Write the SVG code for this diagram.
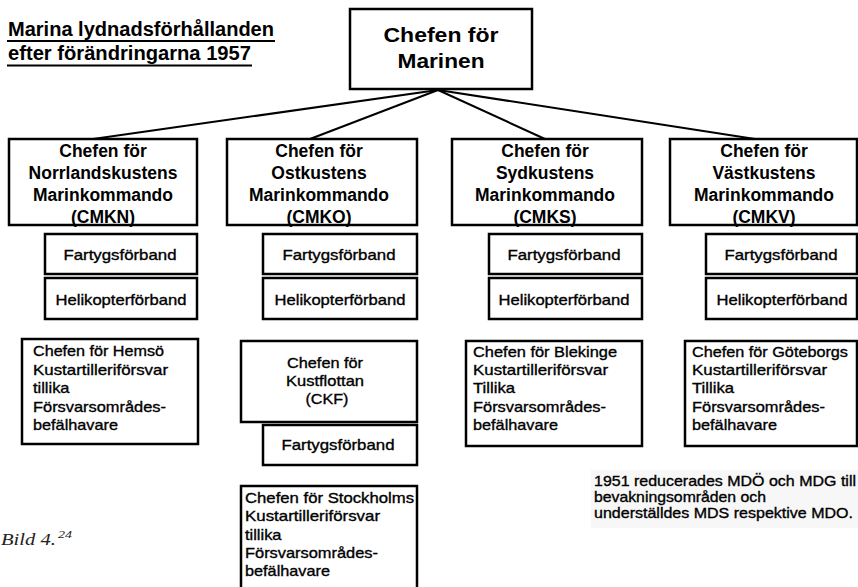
<svg xmlns="http://www.w3.org/2000/svg" width="858" height="587" viewBox="0 0 858 587">
<style>
.box{fill:#fff;stroke:#000;stroke-width:2.5}
.conn line{stroke:#000;stroke-width:2}
.title{font-family:"Liberation Sans",Arial,sans-serif;font-weight:bold;font-size:20px;fill:#000}
.top{font-family:"Liberation Sans",Arial,sans-serif;font-weight:bold;font-size:21px;fill:#000;text-anchor:middle}
.cmd{font-family:"Liberation Sans",Arial,sans-serif;font-weight:bold;font-size:17.5px;fill:#000;text-anchor:middle}
.unit{font-family:"Liberation Sans",Arial,sans-serif;font-size:15px;fill:#000;stroke:#000;stroke-width:0.35;text-anchor:middle}
.info{font-family:"Liberation Sans",Arial,sans-serif;font-size:15px;fill:#000;stroke:#000;stroke-width:0.35}
.infoc{font-family:"Liberation Sans",Arial,sans-serif;font-size:15px;fill:#000;stroke:#000;stroke-width:0.35;text-anchor:middle}
.note{font-family:"Liberation Sans",Arial,sans-serif;font-size:15px;fill:#000;stroke:#000;stroke-width:0.35}
.bild{font-family:"Liberation Serif","Times New Roman",serif;font-style:italic;fill:#222}
</style>
<rect width="858" height="587" fill="#fff"/>

<g id="title">
<text class="title" x="8" y="36" textLength="266" lengthAdjust="spacingAndGlyphs">Marina lydnadsförhållanden</text>
<text class="title" x="8" y="60" textLength="243" lengthAdjust="spacingAndGlyphs">efter förändringarna 1957</text>
<line x1="7" y1="41" x2="275" y2="41" stroke="#000" stroke-width="2"/>
<line x1="7" y1="65.5" x2="252" y2="65.5" stroke="#000" stroke-width="2"/>
</g>

<g class="conn" id="connectors">
<line x1="438" y1="90" x2="93" y2="139"/>
<line x1="438" y1="90" x2="310" y2="139"/>
<line x1="438" y1="90" x2="545" y2="139"/>
<line x1="438" y1="90" x2="755" y2="139"/>
</g>

<g id="chefen-marinen">
<rect class="box" x="350" y="9" width="182" height="80"/>
<text class="top" x="441" y="42" textLength="115" lengthAdjust="spacingAndGlyphs">Chefen för</text>
<text class="top" x="441" y="68" textLength="87" lengthAdjust="spacingAndGlyphs">Marinen</text>
</g>

<g id="cmkn">
<rect class="box" x="9" y="139" width="188" height="86"/>
<text class="cmd" x="103" y="157">Chefen för</text>
<text class="cmd" x="103" y="179">Norrlandskustens</text>
<text class="cmd" x="103" y="201">Marinkommando</text>
<text class="cmd" x="103" y="223">(CMKN)</text>
</g>
<g id="cmko">
<rect class="box" x="227" y="139" width="190" height="86"/>
<text class="cmd" x="319" y="157">Chefen för</text>
<text class="cmd" x="319" y="179">Ostkustens</text>
<text class="cmd" x="319" y="201">Marinkommando</text>
<text class="cmd" x="319" y="223">(CMKO)</text>
</g>
<g id="cmks">
<rect class="box" x="452" y="139" width="190" height="86"/>
<text class="cmd" x="545" y="157">Chefen för</text>
<text class="cmd" x="545" y="179">Sydkustens</text>
<text class="cmd" x="545" y="201">Marinkommando</text>
<text class="cmd" x="545" y="223">(CMKS)</text>
</g>
<g id="cmkv">
<rect class="box" x="670" y="139" width="187" height="86"/>
<text class="cmd" x="764" y="157">Chefen för</text>
<text class="cmd" x="764" y="179">Västkustens</text>
<text class="cmd" x="764" y="201">Marinkommando</text>
<text class="cmd" x="764" y="223">(CMKV)</text>
</g>

<g id="n-fartyg">
<rect class="box" x="45" y="234" width="152" height="40"/>
<text class="unit" x="120" y="260" textLength="113" lengthAdjust="spacingAndGlyphs">Fartygsförband</text>
</g>
<g id="n-heli">
<rect class="box" x="45" y="278" width="152" height="41"/>
<text class="unit" x="121" y="305" textLength="131" lengthAdjust="spacingAndGlyphs">Helikopterförband</text>
</g>
<g id="o-fartyg">
<rect class="box" x="263" y="234" width="154" height="40"/>
<text class="unit" x="339" y="260" textLength="113" lengthAdjust="spacingAndGlyphs">Fartygsförband</text>
</g>
<g id="o-heli">
<rect class="box" x="263" y="278" width="154" height="41"/>
<text class="unit" x="340" y="305" textLength="131" lengthAdjust="spacingAndGlyphs">Helikopterförband</text>
</g>
<g id="s-fartyg">
<rect class="box" x="489" y="234" width="153" height="40"/>
<text class="unit" x="564" y="260" textLength="113" lengthAdjust="spacingAndGlyphs">Fartygsförband</text>
</g>
<g id="s-heli">
<rect class="box" x="489" y="278" width="153" height="41"/>
<text class="unit" x="564" y="305" textLength="131" lengthAdjust="spacingAndGlyphs">Helikopterförband</text>
</g>
<g id="v-fartyg">
<rect class="box" x="706" y="234" width="151" height="40"/>
<text class="unit" x="781" y="260" textLength="113" lengthAdjust="spacingAndGlyphs">Fartygsförband</text>
</g>
<g id="v-heli">
<rect class="box" x="706" y="278" width="151" height="41"/>
<text class="unit" x="782" y="305" textLength="131" lengthAdjust="spacingAndGlyphs">Helikopterförband</text>
</g>

<g id="hemso">
<rect class="box" x="22" y="339" width="176" height="105"/>
<text class="info" x="33" y="356" textLength="131" lengthAdjust="spacingAndGlyphs">Chefen för Hemsö</text>
<text class="info" x="33" y="375" textLength="135" lengthAdjust="spacingAndGlyphs">Kustartilleriförsvar</text>
<text class="info" x="33" y="393" textLength="36.5" lengthAdjust="spacingAndGlyphs">tillika</text>
<text class="info" x="33" y="412" textLength="133" lengthAdjust="spacingAndGlyphs">Försvarsområdes-</text>
<text class="info" x="33" y="430" textLength="85" lengthAdjust="spacingAndGlyphs">befälhavare</text>
</g>

<g id="ckf">
<rect class="box" x="241" y="341" width="176" height="81"/>
<text class="infoc" x="325" y="368" textLength="76" lengthAdjust="spacingAndGlyphs">Chefen för</text>
<text class="infoc" x="325" y="386" textLength="78" lengthAdjust="spacingAndGlyphs">Kustflottan</text>
<text class="infoc" x="327" y="404" textLength="43" lengthAdjust="spacingAndGlyphs">(CKF)</text>
</g>
<g id="ckf-fartyg">
<rect class="box" x="263" y="425" width="154" height="40"/>
<text class="unit" x="338" y="450" textLength="113" lengthAdjust="spacingAndGlyphs">Fartygsförband</text>
</g>
<g id="stockholm">
<rect class="box" x="241" y="486" width="176" height="110"/>
<text class="info" x="245" y="503" textLength="169" lengthAdjust="spacingAndGlyphs">Chefen för Stockholms</text>
<text class="info" x="245" y="521" textLength="135" lengthAdjust="spacingAndGlyphs">Kustartilleriförsvar</text>
<text class="info" x="245" y="540" textLength="36.5" lengthAdjust="spacingAndGlyphs">tillika</text>
<text class="info" x="245" y="558" textLength="133" lengthAdjust="spacingAndGlyphs">Försvarsområdes-</text>
<text class="info" x="245" y="576" textLength="85" lengthAdjust="spacingAndGlyphs">befälhavare</text>
</g>

<g id="blekinge">
<rect class="box" x="466" y="341" width="176" height="105"/>
<text class="info" x="473" y="357" textLength="144" lengthAdjust="spacingAndGlyphs">Chefen för Blekinge</text>
<text class="info" x="473" y="375" textLength="135" lengthAdjust="spacingAndGlyphs">Kustartilleriförsvar</text>
<text class="info" x="473" y="393" textLength="42" lengthAdjust="spacingAndGlyphs">Tillika</text>
<text class="info" x="473" y="412" textLength="133" lengthAdjust="spacingAndGlyphs">Försvarsområdes-</text>
<text class="info" x="473" y="430" textLength="85" lengthAdjust="spacingAndGlyphs">befälhavare</text>
</g>
<g id="goteborg">
<rect class="box" x="685" y="341" width="172" height="105"/>
<text class="info" x="692" y="357" textLength="156" lengthAdjust="spacingAndGlyphs">Chefen för Göteborgs</text>
<text class="info" x="692" y="375" textLength="135" lengthAdjust="spacingAndGlyphs">Kustartilleriförsvar</text>
<text class="info" x="692" y="393" textLength="42" lengthAdjust="spacingAndGlyphs">Tillika</text>
<text class="info" x="692" y="412" textLength="133" lengthAdjust="spacingAndGlyphs">Försvarsområdes-</text>
<text class="info" x="692" y="430" textLength="85" lengthAdjust="spacingAndGlyphs">befälhavare</text>
</g>

<g id="note">
<rect x="591" y="470" width="267" height="58" fill="#f7f7f7"/>
<text class="note" x="594" y="486" textLength="262" lengthAdjust="spacingAndGlyphs">1951 reducerades MDÖ och MDG till</text>
<text class="note" x="594" y="502" textLength="172" lengthAdjust="spacingAndGlyphs">bevakningsområden och</text>
<text class="note" x="594" y="518" textLength="259" lengthAdjust="spacingAndGlyphs">underställdes MDS respektive MDO.</text>
</g>

<g id="caption">
<text class="bild" x="1" y="545" font-size="17" textLength="55" lengthAdjust="spacingAndGlyphs">Bild 4.</text>
<text class="bild" x="58" y="538" font-size="11" textLength="14" lengthAdjust="spacingAndGlyphs">24</text>
</g>
</svg>
